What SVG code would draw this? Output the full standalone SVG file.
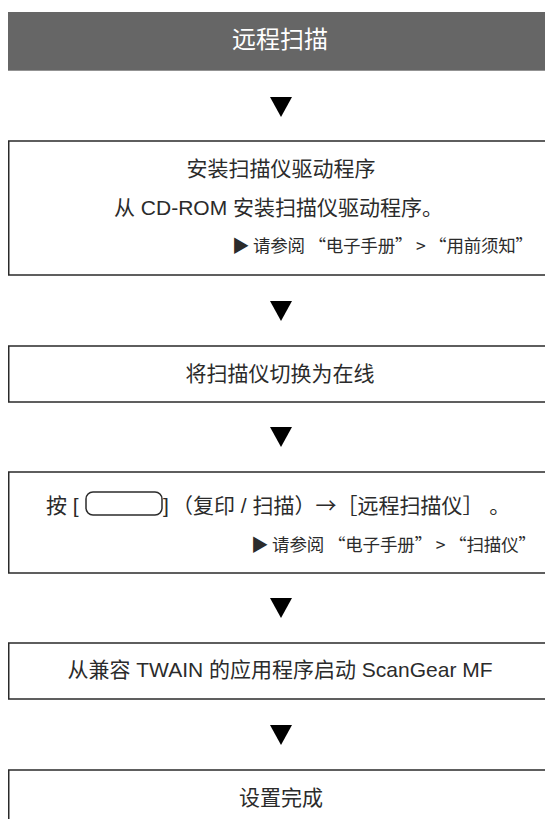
<svg xmlns="http://www.w3.org/2000/svg" width="545" height="819" viewBox="0 0 545 819">
<style>
.box{fill:#fff;stroke:#2a2a2a;stroke-width:1.5}
.t{font-family:"Liberation Sans","Noto Sans CJK SC",sans-serif;font-size:21px;fill:#2b2b2b}
.c{text-anchor:middle}
.cjk{font-family:"Noto Sans CJK SC",sans-serif}
.ref{font-family:"Noto Sans CJK SC",sans-serif;font-size:17.5px;fill:#2b2b2b}
.hd{font-family:"Noto Sans CJK SC",sans-serif;font-size:24px;fill:#fff;text-anchor:middle}
.arr{fill:#000}
</style>
<rect width="545" height="819" fill="#fff"/>
<g id="header">
<rect x="8" y="12" width="545" height="58.7" fill="#666"/>
<text class="hd" x="280" y="47.5">远程扫描</text>
</g>
<g id="connectors">
<polygon class="arr" points="270,97 292,97 281,117"/>
<polygon class="arr" points="270,301 292,301 281,321"/>
<polygon class="arr" points="270,427 292,427 281,447"/>
<polygon class="arr" points="270,598 292,598 281,618"/>
<polygon class="arr" points="270,725 292,725 281,745"/>
</g>
<g id="install">
<rect class="box" x="8.75" y="141" width="560" height="134"/>
<text class="t c" x="281" y="176">安装扫描仪驱动程序</text>
<text class="t" x="114" y="215">从 CD-ROM 安装扫描仪驱动程序。</text>
<text class="ref" x="232" y="252" textLength="301" lengthAdjust="spacing">▶ 请参阅 “电子手册” &gt; “用前须知”</text>
</g>
<g id="online">
<rect class="box" x="8.75" y="346" width="560" height="56"/>
<text class="t c" x="280" y="380.5">将扫描仪切换为在线</text>
</g>
<g id="press">
<rect class="box" x="8.75" y="472" width="560" height="101"/>
<text class="t" x="46" y="512.5">按 [</text>
<rect x="86" y="492" width="76" height="23" rx="7" fill="none" stroke="#2b2b2b" stroke-width="1.5"/>
<text class="t" x="163" y="512.5">]</text>
<text class="t" x="172" y="512.5">（复印 / 扫描）<tspan class="cjk">→</tspan>［远程扫描仪］ 。</text>
<text class="ref" x="251" y="551" textLength="285" lengthAdjust="spacing">▶ 请参阅 “电子手册” &gt; “扫描仪”</text>
</g>
<g id="launch">
<rect class="box" x="8.75" y="643" width="560" height="56"/>
<text class="t c" x="280" y="677">从兼容 TWAIN 的应用程序启动 ScanGear MF</text>
</g>
<g id="done">
<rect class="box" x="8.75" y="770" width="560" height="80"/>
<text class="t c" x="281" y="804.5">设置完成</text>
</g>
</svg>
